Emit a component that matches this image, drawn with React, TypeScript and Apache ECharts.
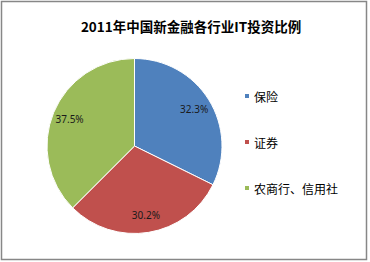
import React, { useEffect, useRef } from "react";
import * as echarts from "echarts";

const titleText = "2011年中国新金融各行业IT投资比例";
const categories = ["保险", "证券", "农商行、信用社"];
const values = [32.3, 30.2, 37.5];
const colors = ["#4F81BD", "#C0504D", "#9BBB59"];

export default function App() {
  const ref = useRef<HTMLDivElement>(null);
  useEffect(() => {
    if (!ref.current) return;
    const chart = echarts.init(ref.current, null, { renderer: "svg" });
    const data = categories.map((name, i) => ({
      name,
      value: values[i],
      itemStyle: { color: colors[i] },
    }));
    chart.setOption({
      animation: false,
      backgroundColor: "#ffffff",
      title: {
        text: titleText,
        left: 186,
        textAlign: "center",
        top: 14,
        textStyle: {
          fontFamily: "'Noto Sans CJK SC', sans-serif",
          fontSize: 13.5,
          fontWeight: "bold",
          color: "#000000",
        },
      },
      legend: {
        orient: "vertical",
        left: 243,
        top: 89,
        padding: 0,
        itemWidth: 6,
        itemHeight: 6,
        itemGap: 32,
        icon: "rect",
        data: categories,
        textStyle: {
          fontFamily: "'Noto Sans CJK SC', sans-serif",
          fontSize: 12,
          lineHeight: 14,
          color: "#000000",
          padding: [0, 0, 0, -1],
        },
      },
      graphic: [
        {
          type: "rect",
          shape: { x: 1.5, y: 1.5, width: 365, height: 258 },
          style: { fill: "none", stroke: "#878787", lineWidth: 1.5 },
          silent: true,
        },
      ],
      series: [
        {
          type: "pie",
          center: [134.5, 146],
          radius: [0, 87.5],
          startAngle: 90,
          clockwise: true,
          label: { show: false },
          labelLine: { show: false },
          itemStyle: { borderColor: "#ffffff", borderWidth: 1 },
          emphasis: { disabled: true },
          data,
        },
        {
          type: "pie",
          center: [134.5, 146],
          radius: [47, 87.5],
          startAngle: 90,
          clockwise: true,
          silent: true,
          legendHoverLink: false,
          itemStyle: { color: "rgba(0,0,0,0)", borderWidth: 0 },
          label: {
            show: true,
            position: "inside",
            formatter: (p: any) => p.value.toFixed(1) + "%",
            fontFamily: "'Liberation Sans Narrow', 'Noto Sans', sans-serif",
            fontSize: 10,
            color: "#1a1a1a",
          },
          labelLine: { show: false },
          emphasis: { disabled: true },
          data: categories.map((name, i) => ({
            name: name + " ",
            value: values[i],
            itemStyle: { color: "rgba(0,0,0,0)" },
          })),
        },
      ],
    });
    return () => chart.dispose();
  }, []);
  return (
    <div
      ref={ref}
      style={{ position: "fixed", left: 0, top: 0, width: 370, height: 262 }}
    />
  );
}
